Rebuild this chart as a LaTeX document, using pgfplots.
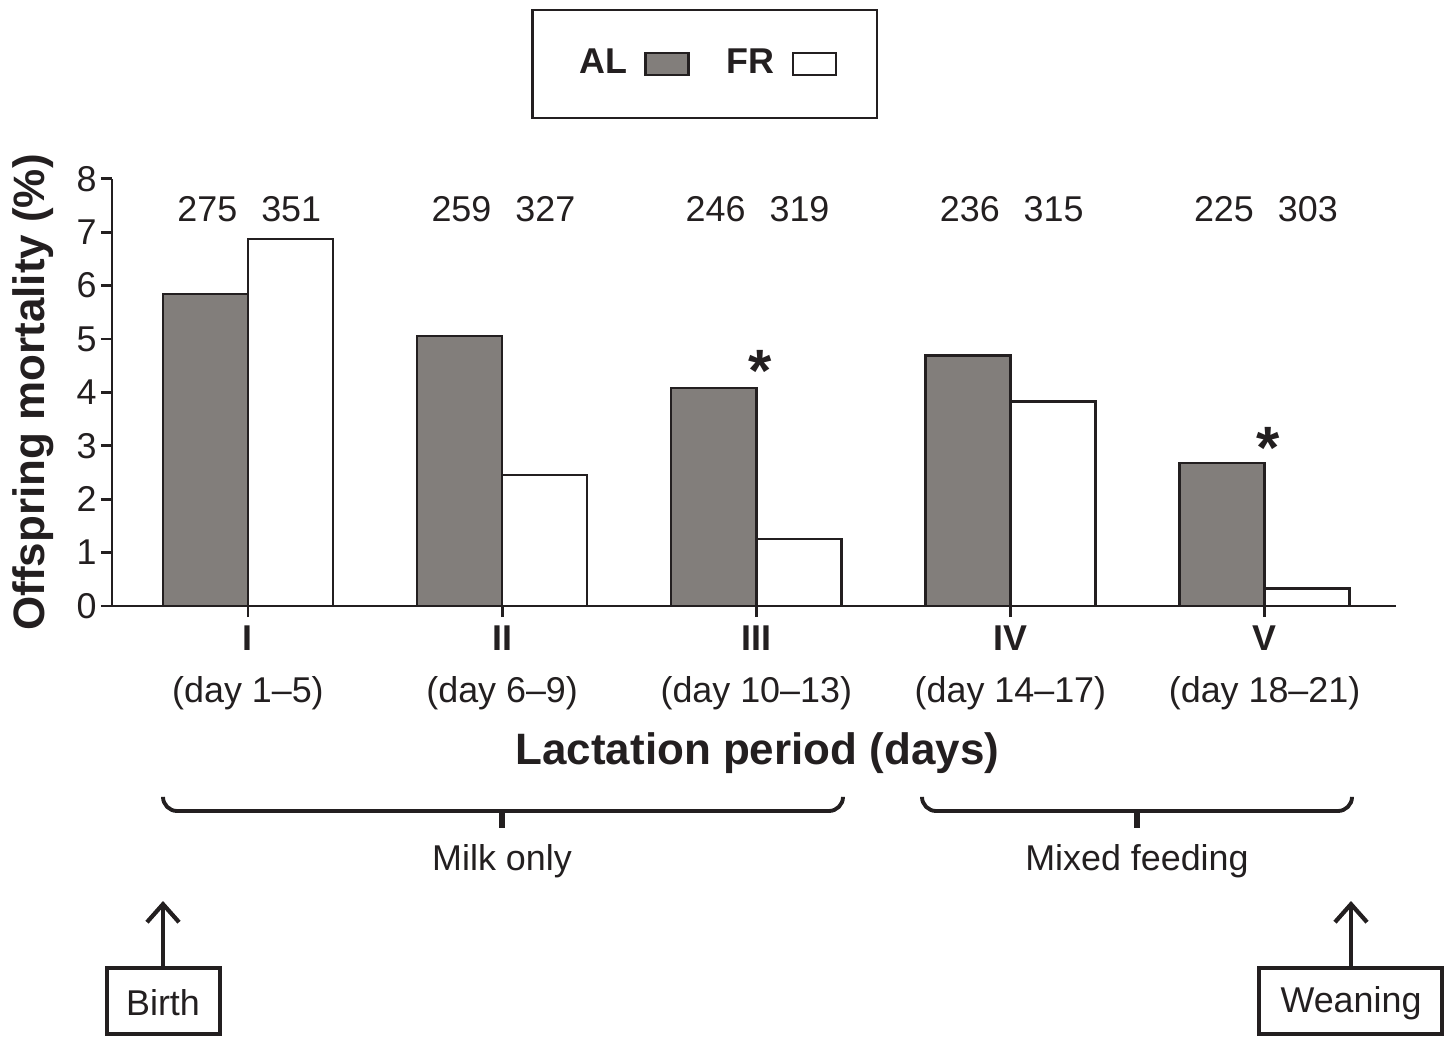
\documentclass[border=0pt]{standalone}
\usepackage{pgfplots}
\pgfplotsset{compat=1.18}
\usepackage{fontspec}
\setmainfont{Liberation Sans}
\usetikzlibrary{arrows.meta}
\definecolor{algray}{RGB}{130,126,123}
\definecolor{ink}{RGB}{35,31,32}
\pgfplotsset{boxlegend/.style={legend image code/.code={\draw[##1] (0cm,-0.11cm) rectangle (0.43cm,0.11cm);}}}

\begin{document}
\begin{tikzpicture}
\begin{axis}[
  scale only axis,
  width=12.83cm, height=4.27cm,
  xmin=0.465, xmax=5.516,
  ymin=0, ymax=8,
  axis lines*=left,
  axis line style={ink, line width=0.8pt},
  tick style={ink, line width=0.8pt},
  tick align=outside,
  major tick length=0.11cm,
  ytick={0,1,...,8},
  xtick={1,2,3,4,5},
  xticklabels={{\textbf{I}\\(day 1--5)},{\textbf{II}\\(day 6--9)},{\textbf{III}\\(day 10--13)},{\textbf{IV}\\(day 14--17)},{\textbf{V}\\(day 18--21)}},
  xticklabel style={align=center, font=\fontsize{10.2}{14.8}\selectfont, text=ink, yshift=0.04cm},
  yticklabel style={font=\fontsize{10.2}{12}\selectfont, text=ink, xshift=0.08cm},
  /pgf/number format/assume math mode=true,
  ylabel={\textbf{Offspring mortality (\%)}},
  ylabel style={font=\fontsize{12.5}{14}\selectfont, text=ink, at={(axis description cs:-0.0616,0.5)}, anchor=center},
  xlabel={\textbf{Lactation period (days)}},
  xlabel style={font=\fontsize{12.5}{14}\selectfont, text=ink, at={(axis description cs:0.5027,-0.344)}, anchor=center},
  ybar=0pt,
  bar width=0.85cm,
  clip=false,
  legend columns=2,
  legend plot pos=right,
  legend style={at={(rel axis cs:0.4618,1.269)}, anchor=center, draw=ink, line width=0.6pt,
    inner xsep=0.4cm, inner ysep=0.32cm,
    font=\fontsize{10.2}{12}\selectfont\bfseries, text=ink,
    /tikz/every odd column/.append style={column sep=0.1cm},
    /tikz/every even column/.append style={column sep=0.3cm}},
]
\addplot[fill=algray, draw=ink, line width=0.7pt, boxlegend]
  coordinates {(1,5.84) (2,5.06) (3,4.08) (4,4.69) (5,2.68)};
\addlegendentry{AL}
\addplot[fill=white, draw=ink, line width=0.7pt, boxlegend]
  coordinates {(1,6.87) (2,2.45) (3,1.25) (4,3.83) (5,0.33)};
\addlegendentry{FR}

% group sizes
\node[font=\fontsize{10.2}{12}\selectfont, text=ink] at (axis cs:0.84,7.44) {275};
\node[font=\fontsize{10.2}{12}\selectfont, text=ink] at (axis cs:1.17,7.44) {351};
\node[font=\fontsize{10.2}{12}\selectfont, text=ink] at (axis cs:1.84,7.44) {259};
\node[font=\fontsize{10.2}{12}\selectfont, text=ink] at (axis cs:2.17,7.44) {327};
\node[font=\fontsize{10.2}{12}\selectfont, text=ink] at (axis cs:2.84,7.44) {246};
\node[font=\fontsize{10.2}{12}\selectfont, text=ink] at (axis cs:3.17,7.44) {319};
\node[font=\fontsize{10.2}{12}\selectfont, text=ink] at (axis cs:3.84,7.44) {236};
\node[font=\fontsize{10.2}{12}\selectfont, text=ink] at (axis cs:4.17,7.44) {315};
\node[font=\fontsize{10.2}{12}\selectfont, text=ink] at (axis cs:4.84,7.44) {225};
\node[font=\fontsize{10.2}{12}\selectfont, text=ink] at (axis cs:5.17,7.44) {303};
% significance
\node[font=\fontsize{17}{17}\selectfont\bfseries, text=ink] at (axis cs:3.015,4.41) {*};
\node[font=\fontsize{17}{17}\selectfont\bfseries, text=ink] at (axis cs:5.012,2.96) {*};
\end{axis}

% annotations below the axis, in reference pixel units
\begin{scope}[x=0.01cm, y=-0.01cm, shift={(-112,-606)}, ink, line width=1.1pt]
  \draw[rounded corners=4] (163,797) -- (163,811) -- (843,811) -- (843,797);
  \draw[line width=1.6pt] (502,811) -- (502,828);
  \node[font=\fontsize{10.2}{12}\selectfont] at (502,861) {Milk only};
  \draw[rounded corners=4] (922,797) -- (922,811) -- (1352,811) -- (1352,797);
  \draw[line width=1.6pt] (1137,811) -- (1137,828);
  \node[font=\fontsize{10.2}{12}\selectfont] at (1137,861) {Mixed feeding};
  \draw[line width=1.2pt, -{Straight Barb[length=0.18cm,width=0.32cm,line width=1.2pt]}] (163,968) -- (163,901);
  \draw (107,968) rectangle (220,1034);
  \node[font=\fontsize{10.2}{12}\selectfont] at (163,1003) {Birth};
  \draw[line width=1.2pt, -{Straight Barb[length=0.18cm,width=0.32cm,line width=1.2pt]}] (1351,968) -- (1351,901);
  \draw (1259,968) rectangle (1442,1034);
  \node[font=\fontsize{10.2}{12}\selectfont] at (1351,1003) {Weaning};
  \pgfresetboundingbox
  \path (0,0) rectangle (1445,1036);
\end{scope}
\end{tikzpicture}
\end{document}
